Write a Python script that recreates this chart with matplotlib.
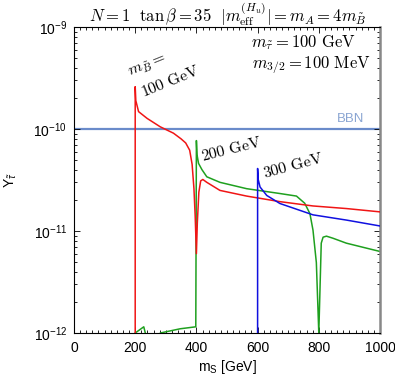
import numpy as np
import matplotlib
matplotlib.use("Agg")
import matplotlib.pyplot as plt
from matplotlib.ticker import FixedLocator, FuncFormatter, MultipleLocator, LogLocator, NullFormatter

plt.rcParams['font.family'] = ['Liberation Sans', 'DejaVu Sans']
plt.rcParams['mathtext.fontset'] = 'custom'
plt.rcParams['mathtext.rm'] = 'Liberation Sans'
plt.rcParams['mathtext.it'] = 'Liberation Sans:italic'
plt.rcParams['mathtext.bf'] = 'Liberation Sans:bold'

# ---- data ----
red_ms = [200, 200, 202, 211, 239, 282, 325, 350, 365, 378, 386, 392, 396, 400, 403, 408, 414, 421, 434, 477, 564, 673, 781, 890, 1000]
red_Y = [1e-13, 2.6e-10, 1.9e-10, 1.48e-10, 1.27e-10, 1.05e-10, 9.1e-11, 8.0e-11, 7.3e-11, 6.2e-11, 4.5e-11, 2.6e-11, 1.4e-11, 6.0e-12, 1.2e-11, 2.4e-11, 3.1e-11, 3.2e-11, 3.0e-11, 2.5e-11, 2.2e-11, 1.94e-11, 1.76e-11, 1.66e-11, 1.54e-11]

green_ms = [200, 228, 233, 236, 278, 282, 347, 398, 400, 402, 407, 418, 434, 477, 564, 673, 727, 754, 771, 781, 792, 800, 808, 814, 825, 846, 890, 955, 1000]
green_Y = [1.0e-12, 1.15e-12, 1.0e-12, 3e-13, 3e-13, 1.0e-12, 1.1e-12, 1.15e-12, 7.7e-11, 5.6e-11, 4.6e-11, 4.0e-11, 3.4e-11, 3.0e-11, 2.6e-11, 2.33e-11, 2.2e-11, 1.87e-11, 1.48e-11, 1.02e-11, 4.9e-12, 1.0e-12, 7.6e-12, 8.7e-12, 8.9e-12, 8.5e-12, 7.6e-12, 6.8e-12, 6.3e-12]

blue_ms = [600, 600, 602, 608, 630, 673, 781, 890, 1000]
blue_Y = [1e-13, 4.1e-11, 3.2e-11, 2.7e-11, 2.23e-11, 1.86e-11, 1.44e-11, 1.28e-11, 1.12e-11]

bbn_limit = 1e-10

x_ticks = [0, 200, 400, 600, 800, 1000]
y_ticks = [1e-12, 1e-11, 1e-10, 1e-9]

# ---- figure ----
fig = plt.figure(figsize=(3.95, 3.82), dpi=100)
ax = fig.add_axes([74/395, 1-333/382, (380-74)/395, (333-27)/382])

ax.axhline(bbn_limit, color='#6a8bca', lw=1.6, zorder=1)
ax.plot(red_ms, red_Y, color='#f01515', lw=1.1, zorder=3)
ax.plot(green_ms, green_Y, color='#1fa01f', lw=1.1, zorder=2)
ax.plot(blue_ms, blue_Y, color='#1010e0', lw=1.1, zorder=3)

ax.set_yscale('log')
ax.set_xlim(0, 1000)
ax.set_ylim(1e-12, 1e-9)

ax.xaxis.set_major_locator(FixedLocator(x_ticks))
ax.xaxis.set_minor_locator(MultipleLocator(20))
ax.yaxis.set_major_locator(FixedLocator(y_ticks))
ax.yaxis.set_minor_locator(LogLocator(base=10, subs=np.arange(2, 10)))
ax.yaxis.set_minor_formatter(NullFormatter())
ax.yaxis.set_major_formatter(FuncFormatter(lambda v, p: r'$\mathregular{10^{%d}}$' % int(round(np.log10(v)))))

ax.tick_params(which='both', direction='in', top=True, right=True, labelsize=10, width=0.6)
ax.tick_params(which='major', length=4)
ax.tick_params(which='minor', length=2)
ax.tick_params(axis='x', pad=6)
ax.tick_params(axis='y', pad=5)
for s in ['left', 'bottom', 'top']:
    ax.spines[s].set_linewidth(0.8)
ax.spines['right'].set_color('#888888')
ax.spines['right'].set_linewidth(1.8)

ax.set_xlabel(r'm$_\mathregular{S}$ [GeV]', fontsize=10, labelpad=2)
ax.set_ylabel(r'Y$_{\tilde{\tau}}$', fontsize=10, labelpad=10)

cm = dict(math_fontfamily='cm')
fig.text(228/395, 1-14/382, r'$N=1\ \ \tan\beta=35\ \ |m_{\rm eff}^{(H_u)}|=m_A=4m_{\tilde B}$',
         ha='center', va='center', fontsize=12, **cm)
ax.text(0.58, 0.948, r'$m_{\tilde\tau}=100\ {\rm GeV}$', transform=ax.transAxes, ha='left', va='center', fontsize=12, **cm)
ax.text(0.97, 0.876, r'$m_{3/2}=100\ {\rm MeV}$', transform=ax.transAxes, ha='right', va='center', fontsize=12, **cm)

ax.text(0.905, 0.70, 'BBN', transform=ax.transAxes, ha='center', va='center', fontsize=9.5, color='#8aa5d2')

ax.text(242, 4.1e-10, r'$m_{\tilde B}=$', rotation=22, ha='center', va='center', fontsize=11.5, **cm)
ax.text(313, 2.95e-10, r'$100\ {\rm GeV}$', rotation=22, ha='center', va='center', fontsize=11.5, **cm)
ax.text(513, 6.4e-11, r'$200\ {\rm GeV}$', rotation=14, ha='center', va='center', fontsize=11.5, **cm)
ax.text(716, 4.35e-11, r'$300\ {\rm GeV}$', rotation=15, ha='center', va='center', fontsize=11.5, **cm)

fig.savefig('out.png', dpi=100)
